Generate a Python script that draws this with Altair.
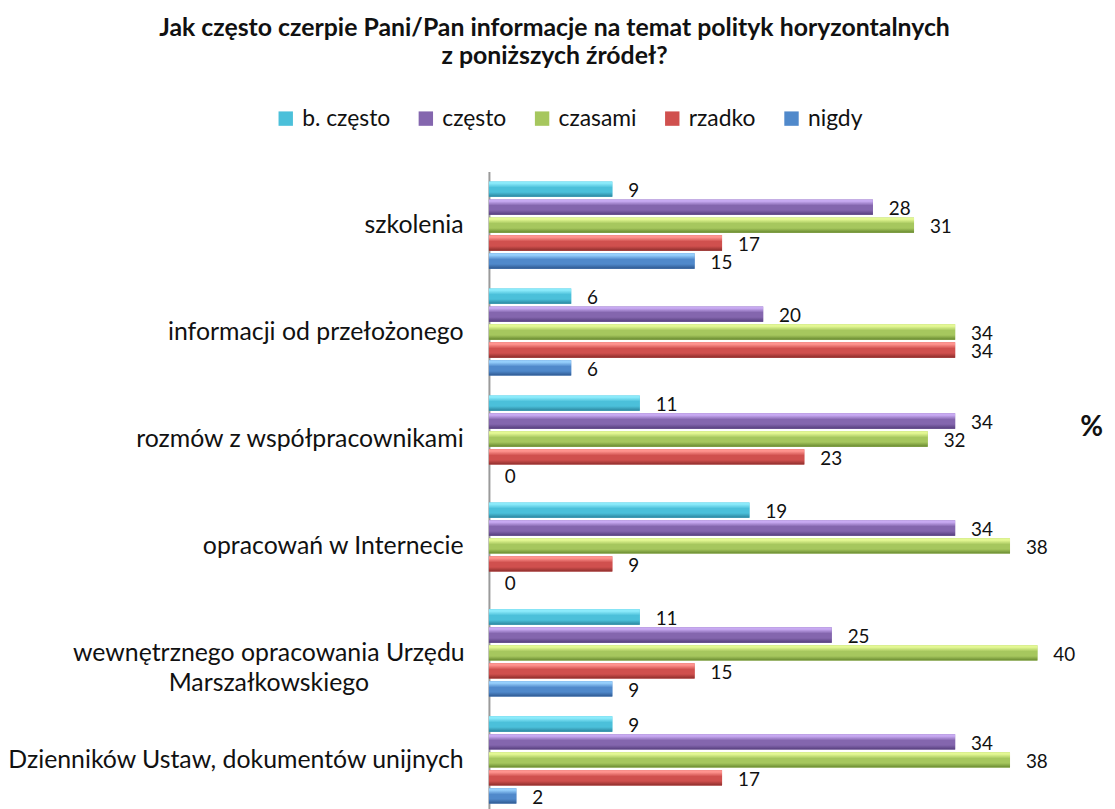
import altair as alt
import pandas as pd

categories = [
    "szkolenia",
    "informacji od przełożonego",
    "rozmów z współpracownikami",
    "opracowań w Internecie",
    "wewnętrznego opracowania Urzędu|Marszałkowskiego",
    "Dzienników Ustaw, dokumentów unijnych",
]
series = ["b. często", "często", "czasami", "rzadko", "nigdy"]
colors = ["#4BC0DA", "#8466AE", "#A6C75E", "#D0504E", "#5089CB"]
light_colors = ["#8CEBFB", "#C8AAF2", "#E4F894", "#FF948F", "#96CFFC"]
dark_colors = ["#2C859E", "#553E7C", "#67882F", "#8C2D2B", "#2E5890"]

b_czesto = [9, 6, 11, 19, 11, 9]
czesto = [28, 20, 34, 34, 25, 34]
czasami = [31, 34, 32, 38, 40, 38]
rzadko = [17, 34, 23, 9, 15, 17]
nigdy = [15, 6, 0, 0, 9, 2]

values = [b_czesto, czesto, czasami, rzadko, nigdy]
rows = []
for s, vals in zip(series, values):
    for c, v in zip(categories, vals):
        rows.append({"kategoria": c, "seria": s, "wartosc": v})
df = pd.DataFrame(rows)

FONT = "Lato"
MULTI = "wewnętrznego opracowania Urzędu|Marszałkowskiego"

y_axis = alt.Y(
    "kategoria:N",
    sort=categories,
    scale=alt.Scale(paddingInner=0, paddingOuter=0),
    axis=alt.Axis(
        title=None,
        ticks=False,
        domain=True,
        domainColor="#9a9a9a",
        domainWidth=2,
        labelExpr="split(datum.label, '|')",
        labelFont=FONT,
        labelFontSize=25,
        labelColor="#111111",
        labelLineHeight=30,
        labelLimit=600,
        labelAlign=alt.condition(
            f"datum.value == '{MULTI}'", alt.value("center"), alt.value("right")
        ),
        labelPadding=alt.condition(
            f"datum.value == '{MULTI}'", alt.value(222), alt.value(26)
        ),
    ),
)
y_plain = alt.Y("kategoria:N", sort=categories)
yoff = alt.YOffset(
    "seria:N",
    sort=series,
    scale=alt.Scale(paddingInner=0.15, paddingOuter=0.55),
)
yoff_plain = alt.YOffset("seria:N", sort=series)

x_enc = alt.X(
    "wartosc:Q",
    scale=alt.Scale(domain=[0, 40], nice=False, zero=True),
    axis=alt.Axis(
        title="%",
        labels=False,
        ticks=False,
        domain=False,
        grid=False,
        titleFont=FONT,
        titleFontSize=28,
        titleFontWeight="bold",
        titleColor="#111111",
        titleX=606,
        titleY=-388,
        titleAlign="center",
        titleBaseline="middle",
    ),
)

base = alt.Chart(df)

bars = base.mark_bar().encode(
    x=x_enc,
    y=y_axis,
    yOffset=yoff,
    color=alt.Color(
        "seria:N",
        sort=series,
        scale=alt.Scale(domain=series, range=colors),
        legend=alt.Legend(
            title=None,
            orient="none",
            legendX=-216,
            legendY=-65,
            direction="horizontal",
            symbolType="square",
            symbolSize=210,
            symbolStrokeWidth=0,
            labelFont=FONT,
            labelFontSize=23,
            labelColor="#111111",
            labelOffset=5,
            columnPadding=24,
        ),
    ),
)

gloss_layers = []
for s, c0, c1, c2 in zip(series, light_colors, colors, dark_colors):
    gloss_layers.append(
        base.transform_filter(alt.datum.seria == s)
        .mark_bar(
            fill=alt.Gradient(
                gradient="linear",
                x1=0, y1=0, x2=0, y2=1,
                stops=[
                    alt.GradientStop(color=c0, offset=0),
                    alt.GradientStop(color=c0, offset=0.12),
                    alt.GradientStop(color=c1, offset=0.4),
                    alt.GradientStop(color=c1, offset=0.7),
                    alt.GradientStop(color=c2, offset=1),
                ],
            )
        )
        .encode(x="wartosc:Q", y=y_plain, yOffset=yoff_plain)
    )

labels = base.mark_text(
    align="left", baseline="middle", dx=16, dy=2, font=FONT, fontSize=19, color="#111111"
).encode(
    x="wartosc:Q",
    y=y_plain,
    yOffset=yoff_plain,
    text=alt.Text("wartosc:Q"),
)

chart = (
    alt.layer(bars, *gloss_layers, labels)
    .properties(
        width=552,
        height=646,
        autosize=alt.AutoSizeParams(type="none"),
        padding={"left": 484, "top": 162, "right": 70, "bottom": 0},
        title=alt.TitleParams(
            text=[
                "Jak często czerpie Pani/Pan informacje na temat polityk horyzontalnych",
                "z poniższych źródeł?",
            ],
            font=FONT,
            fontSize=25,
            fontWeight="bold",
            color="#111111",
            anchor="middle",
            frame="group",
            dx=-210,
            offset=38,
            lineHeight=28,
        ),
    )
    .configure_view(stroke=None)
)

chart.save("out.html", embed_options={"renderer": "svg", "actions": False})
